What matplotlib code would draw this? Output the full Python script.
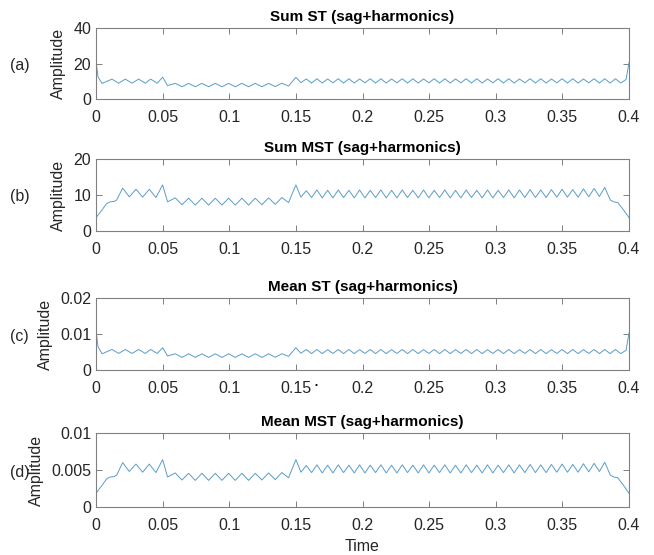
import numpy as np
import matplotlib
matplotlib.use("Agg")
import matplotlib.pyplot as plt
from matplotlib.ticker import FuncFormatter

plt.rcParams['font.family'] = ['Liberation Sans', 'DejaVu Sans']

# ---------------- data ----------------
# time knots
t_pre_st = [0.0, 0.0015, 0.0045, 0.012, 0.017, 0.022, 0.027, 0.032, 0.037, 0.041, 0.046, 0.050]
t_pre_mst = [0.0, 0.004, 0.008, 0.0105, 0.0135, 0.0155, 0.020, 0.025, 0.030, 0.035, 0.040, 0.045, 0.050]
t_sag = [0.0537, 0.0595, 0.0645, 0.0695, 0.0745, 0.0795, 0.0845, 0.0895, 0.0945, 0.0995,
         0.1045, 0.1095, 0.1145, 0.1195, 0.1245, 0.1295, 0.1345, 0.1395, 0.1445, 0.150]
t_post = [0.1538, 0.1578, 0.1618, 0.1658, 0.1698, 0.1738, 0.1778, 0.1818, 0.1858, 0.1898,
          0.1938, 0.1978, 0.2018, 0.2058, 0.2098, 0.2138, 0.2178, 0.2218, 0.2258, 0.2298,
          0.2338, 0.2378, 0.2418, 0.2458, 0.2498, 0.2538, 0.2578, 0.2618, 0.2658, 0.2698,
          0.2738, 0.2778, 0.2818, 0.2858, 0.2898, 0.2938, 0.2978, 0.3018, 0.3058, 0.3098,
          0.3138, 0.3178, 0.3218, 0.3258, 0.3298, 0.3338, 0.3378, 0.3418, 0.3458, 0.3498,
          0.3538, 0.3578, 0.3618, 0.3658, 0.3698, 0.3738, 0.3778, 0.3818]
t_end_st = [0.3858, 0.3898, 0.3938, 0.3978, 0.400]
t_end_mst = [0.3860, 0.3885, 0.3915, 0.3960, 0.400]

# (a) Sum ST
sum_st_pre = [21.5, 12.5, 8.8, 11.2, 8.9, 11.2, 8.9, 11.2, 8.9, 11.2, 8.9, 12.3]
sum_st_sag = [7.6, 8.8, 6.9, 8.8, 6.9, 8.8, 6.9, 8.8, 6.9, 8.8,
              6.9, 8.8, 6.9, 8.8, 6.9, 8.8, 7.0, 8.9, 7.3, 12.2]
sum_st_post = [9.2, 11.3, 9.0, 11.4, 9.0, 11.3, 9.1, 11.4, 9.0, 11.4,
               9.0, 11.3, 9.1, 11.4, 9.0, 11.4, 9.0, 11.3, 9.1, 11.4,
               9.0, 11.4, 9.0, 11.3, 9.1, 11.4, 9.0, 11.4, 9.0, 11.3,
               9.1, 11.4, 9.0, 11.4, 9.0, 11.3, 9.1, 11.4, 9.0, 11.4,
               9.0, 11.3, 9.1, 11.4, 9.0, 11.4, 9.0, 11.3, 9.1, 11.4,
               9.0, 11.4, 9.0, 11.3, 9.1, 11.4, 9.0, 11.4]
sum_st_end = [9.0, 11.4, 9.0, 11.0, 20.5]

# (b) Sum MST
sum_mst_pre = [3.7, 5.6, 7.6, 8.1, 8.2, 8.6, 11.9, 9.5, 11.6, 9.4, 11.6, 9.3, 12.8]
sum_mst_sag = [8.1, 9.2, 7.3, 9.1, 7.2, 9.1, 7.2, 9.1, 7.2, 9.1,
               7.2, 9.1, 7.2, 9.1, 7.3, 9.2, 7.4, 9.3, 7.9, 12.8]
sum_mst_post = [9.4, 11.2, 9.3, 11.4, 9.2, 11.3, 9.2, 11.4, 9.3, 11.3,
                9.2, 11.4, 9.2, 11.3, 9.3, 11.4, 9.2, 11.3, 9.2, 11.4,
                9.3, 11.3, 9.2, 11.4, 9.2, 11.3, 9.3, 11.4, 9.2, 11.3,
                9.2, 11.4, 9.3, 11.3, 9.2, 11.4, 9.2, 11.3, 9.3, 11.4,
                9.2, 11.4, 9.3, 11.5, 9.3, 11.4, 9.3, 11.5, 9.4, 11.6,
                9.4, 11.5, 9.4, 11.7, 9.5, 11.8, 9.6, 12.1]
sum_mst_end = [8.6, 8.1, 7.9, 5.8, 3.7]

# (c) Mean ST  (values in units of 1e-3)
mean_st_pre = [11.1, 6.5, 4.5, 5.7, 4.6, 5.7, 4.6, 5.7, 4.6, 5.7, 4.6, 6.2]
mean_st_sag = [3.9, 4.5, 3.5, 4.5, 3.5, 4.5, 3.5, 4.5, 3.5, 4.5,
               3.5, 4.5, 3.5, 4.5, 3.5, 4.5, 3.55, 4.5, 3.8, 6.2]
mean_st_post = [4.65, 5.7, 4.55, 5.7, 4.55, 5.65, 4.6, 5.7, 4.55, 5.7,
                4.55, 5.65, 4.6, 5.7, 4.55, 5.7, 4.55, 5.65, 4.6, 5.7,
                4.55, 5.7, 4.55, 5.65, 4.6, 5.7, 4.55, 5.7, 4.55, 5.65,
                4.6, 5.7, 4.55, 5.7, 4.55, 5.65, 4.6, 5.7, 4.55, 5.7,
                4.55, 5.65, 4.6, 5.7, 4.55, 5.7, 4.55, 5.65, 4.6, 5.7,
                4.55, 5.7, 4.55, 5.65, 4.6, 5.7, 4.55, 5.7]
mean_st_end = [4.55, 5.7, 4.55, 5.5, 10.3]

# (d) Mean MST  (values in units of 1e-3)
mean_mst_pre = [1.85, 2.8, 3.8, 4.05, 4.1, 4.3, 6.0, 4.8, 5.8, 4.7, 5.8, 4.65, 6.4]
mean_mst_sag = [4.05, 4.6, 3.65, 4.55, 3.6, 4.55, 3.6, 4.55, 3.6, 4.55,
                3.6, 4.55, 3.6, 4.55, 3.65, 4.6, 3.7, 4.65, 3.95, 6.4]
mean_mst_post = [4.7, 5.6, 4.65, 5.7, 4.6, 5.65, 4.6, 5.7, 4.65, 5.65,
                 4.6, 5.7, 4.6, 5.65, 4.65, 5.7, 4.6, 5.65, 4.6, 5.7,
                 4.65, 5.65, 4.6, 5.7, 4.6, 5.65, 4.65, 5.7, 4.6, 5.65,
                 4.6, 5.7, 4.65, 5.65, 4.6, 5.7, 4.6, 5.65, 4.65, 5.7,
                 4.6, 5.7, 4.65, 5.75, 4.65, 5.7, 4.65, 5.75, 4.7, 5.8,
                 4.7, 5.75, 4.7, 5.85, 4.75, 5.9, 4.8, 6.05]
mean_mst_end = [4.3, 4.05, 3.95, 2.9, 1.85]

titles = ['Sum ST (sag+harmonics)', 'Sum MST (sag+harmonics)',
          'Mean ST (sag+harmonics)', 'Mean MST (sag+harmonics)']
panel_labels = ['(a)', '(b)', '(c)', '(d)']
y_ticks = [[0, 20, 40], [0, 10, 20], [0, 0.01, 0.02], [0, 0.005, 0.01]]
x_ticks = [0, 0.05, 0.1, 0.15, 0.2, 0.25, 0.3, 0.35, 0.4]

# ---------------- assemble series ----------------
t_st = np.array(t_pre_st + t_sag + t_post + t_end_st)
t_mst = np.array(t_pre_mst + t_sag + t_post + t_end_mst)
series = [
    (t_st, np.array(sum_st_pre + sum_st_sag + sum_st_post + sum_st_end)),
    (t_mst, np.array(sum_mst_pre + sum_mst_sag + sum_mst_post + sum_mst_end)),
    (t_st, np.array(mean_st_pre + mean_st_sag + mean_st_post + mean_st_end) * 1e-3),
    (t_mst, np.array(mean_mst_pre + mean_mst_sag + mean_mst_post + mean_mst_end) * 1e-3),
]

# ---------------- figure ----------------
W, H = 654, 555
fig = plt.figure(figsize=(W / 100, H / 100), dpi=100)

# axes boxes in pixels: (top, bottom)
boxes = [(28, 99), (159, 231), (298, 370), (433, 507)]
left_px, right_px = 96, 629

line_color = '#5a9dc8'
text_color = '#262626'
spine_color = '#808080'
fmt = FuncFormatter(lambda v, p: f'{v:g}')

for i, ((top, bot), (tt, yy)) in enumerate(zip(boxes, series)):
    ax = fig.add_axes([left_px / W, 1 - bot / H, (right_px - left_px) / W, (bot - top) / H])
    ax.plot(tt, yy, color=line_color, lw=0.7, solid_joinstyle='round')
    ax.set_xlim(0, 0.4)
    ax.set_ylim(y_ticks[i][0], y_ticks[i][-1])
    ax.set_xticks(x_ticks)
    ax.set_yticks(y_ticks[i])
    ax.xaxis.set_major_formatter(fmt)
    ax.yaxis.set_major_formatter(fmt)
    ax.tick_params(axis='both', direction='in', length=4, width=0.7, colors=spine_color,
                   labelcolor=text_color, labelsize=11.5, top=True, right=True)
    ax.tick_params(axis='x', pad=8)
    ax.tick_params(axis='y', pad=3.5)
    for s in ax.spines.values():
        s.set_color(spine_color)
        s.set_linewidth(0.8)
    ax.set_ylabel('Amplitude', fontsize=11.5, color=text_color, labelpad=5)
    ax.set_title(titles[i], fontsize=11, fontweight='bold', color='black', pad=5)
    fig.text(10 / W, 1 - ((top + bot) / 2 + 2) / H, panel_labels[i], fontsize=11.5,
             color=text_color, ha='left', va='center')
    if i == 3:
        ax.set_xlabel('Time', fontsize=11.5, color=text_color, labelpad=4)

# small dot next to the 0.15 label in panel (c)
fig.text(316 / W, 1 - 386 / H, '•', fontsize=6, color='black', ha='center', va='center')

fig.savefig('out.png', dpi=100)
